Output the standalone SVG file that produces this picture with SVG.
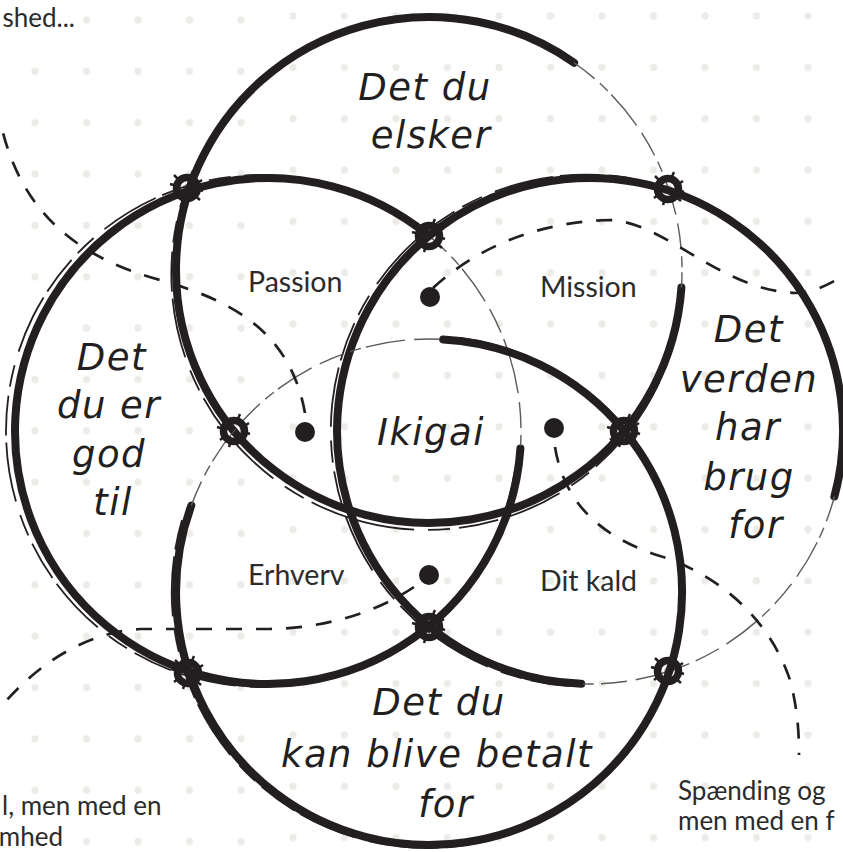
<svg xmlns="http://www.w3.org/2000/svg" xmlns:xlink="http://www.w3.org/1999/xlink" width="843" height="852" viewBox="0 0 843 852">
<style>
.brush{fill:none;stroke:#231f20;stroke-width:8;stroke-linecap:round}
.rough{fill:none;stroke:#231f20;stroke-width:1.8;stroke-dasharray:40 9 22 14 60 7}
.dry{fill:none;stroke:#5a5a5a;stroke-width:1.4;stroke-dasharray:26 7 11 5 40 9}
.dash{fill:none;stroke:#231f20;stroke-width:2.7;stroke-dasharray:16 14}
.dot{fill:#231f20}
.lbl{font-family:Lato,'Open Sans',sans-serif;font-size:28.5px;fill:#2b2b2b}
.note{font-size:26px}
.hand{font-family:'DejaVu Sans',sans-serif;font-style:oblique;font-size:37px;fill:#231f20;text-anchor:middle;letter-spacing:1.5px}
</style>
<defs>
<pattern id="gridL" x="9.25" y="-5.675" width="51.5" height="51.35" patternUnits="userSpaceOnUse"><circle cx="25.75" cy="25.675" r="3.6" fill="#ecebe7"/></pattern>
<pattern id="gridR" x="267.25" y="-9.675" width="51.5" height="51.35" patternUnits="userSpaceOnUse"><circle cx="25.75" cy="25.675" r="3.6" fill="#ecebe7"/></pattern>
<g id="knot">
<circle r="10.5" fill="none" stroke="#231f20" stroke-width="7.5"/>
<circle r="4" fill="#231f20" opacity="0.3"/>
<path d="M-17,-4 L-10,-2 M15,-8 L9,-4 M-5,16 L-3,10 M6,-17 L3,-10 M-13,-13 L-7,-7 M13,12 L7,7 M-14,9 L-9,5 M16,3 L10,1" stroke="#231f20" stroke-width="2.5" fill="none"/>
</g>
</defs>
<rect width="843" height="852" fill="#ffffff"/>
<rect x="0" y="0" width="267" height="852" fill="url(#gridL)"/>
<rect x="267" y="0" width="576" height="852" fill="url(#gridR)"/>

<g id="circle-top">
<path class="brush" d="M681.4,287.6 A253,253 0 1 1 574.1,62.7"/>
<path class="rough" d="M682,300 A256,256 0 1 1 560,55"/>
<path class="dry" d="M574.1,62.7 A253,253 0 0 1 681.4,287.6"/>
<text class="hand" x="425" y="100">Det du</text>
<text class="hand" x="431" y="148">elsker</text>
</g>
<g id="circle-left">
<path class="brush" d="M520.4,448.6 A253,253 0 1 1 427.2,234.4"/>
<path class="rough" d="M515,470 A256,256 0 1 1 410,222"/>
<path class="dry" d="M427.2,234.4 A253,253 0 0 1 520.4,448.6"/>
<text class="hand" x="112" y="370">Det</text>
<text class="hand" x="109" y="418">du er</text>
<text class="hand" x="109" y="467">god</text>
<text class="hand" x="113" y="515">til</text>
</g>
<g id="circle-right">
<path class="brush" d="M581.2,683.8 A253,253 0 1 1 834.4,496.5"/>
<path class="rough" d="M570,686 A256,256 0 1 1 838,480"/>
<path class="dry" d="M834.4,496.5 A253,253 0 0 1 581.2,683.8"/>
<text class="hand" x="749" y="342">Det</text>
<text class="hand" x="749" y="392">verden</text>
<text class="hand" x="748" y="440">har</text>
<text class="hand" x="749" y="490">brug</text>
<text class="hand" x="756" y="538">for</text>
</g>
<g id="circle-bottom">
<path class="brush" d="M443.1,339.4 A253,253 0 1 1 191.3,505.5"/>
<path class="rough" d="M460,338 A256,256 0 1 1 182,520"/>
<path class="dry" d="M191.3,505.5 A253,253 0 0 1 443.1,339.4"/>
<text class="hand" x="439" y="715">Det du</text>
<text class="hand" x="437" y="767">kan blive betalt</text>
<text class="hand" x="446" y="817">for</text>
</g>

<g id="knots">
<use xlink:href="#knot" x="187" y="188"/>
<use xlink:href="#knot" x="668" y="189"/>
<use xlink:href="#knot" x="188" y="673"/>
<use xlink:href="#knot" x="668" y="671"/>
<use xlink:href="#knot" x="429" y="236"/>
<use xlink:href="#knot" x="429" y="627"/>
<use xlink:href="#knot" x="234" y="431"/>
<use xlink:href="#knot" x="624" y="431"/>
</g>

<g id="connectors">
<path class="dash" d="M305,413 C290,330 230,300 160,280 C80,258 20,215 0,120"/>
<path class="dash" d="M433,288 C480,245 540,222 610,220 C665,222 720,290 795,293 C812,293 828,285 843,276"/>
<path class="dash" d="M555,447 C565,510 610,540 660,556 C720,575 770,620 790,680 C798,710 799,735 799,755"/>
<path class="dash" d="M414,587 C380,610 330,628 270,629 L140,629 C90,632 40,660 0,708"/>
</g>

<g id="passion"><circle class="dot" cx="305" cy="432" r="10"/><text class="lbl" x="248" y="292">Passion</text></g>
<g id="mission"><circle class="dot" cx="430" cy="297" r="10"/><text class="lbl" x="540" y="297">Mission</text></g>
<g id="dit-kald"><circle class="dot" cx="554" cy="428" r="10"/><text class="lbl" x="540" y="591">Dit kald</text></g>
<g id="erhverv"><circle class="dot" cx="429" cy="575" r="10"/><text class="lbl" x="248" y="585">Erhverv</text></g>
<g id="ikigai"><text class="hand" x="431" y="445">Ikigai</text></g>

<g id="notes">
<text class="lbl note" x="75" y="27" text-anchor="end">shed...</text>
<text class="lbl note" x="2" y="815">l, men med en</text>
<text class="lbl note" x="63" y="846" text-anchor="end">mhed</text>
<text class="lbl note" x="678" y="800">Spænding og</text>
<text class="lbl note" x="678" y="830">men med en f</text>
</g>
</svg>
